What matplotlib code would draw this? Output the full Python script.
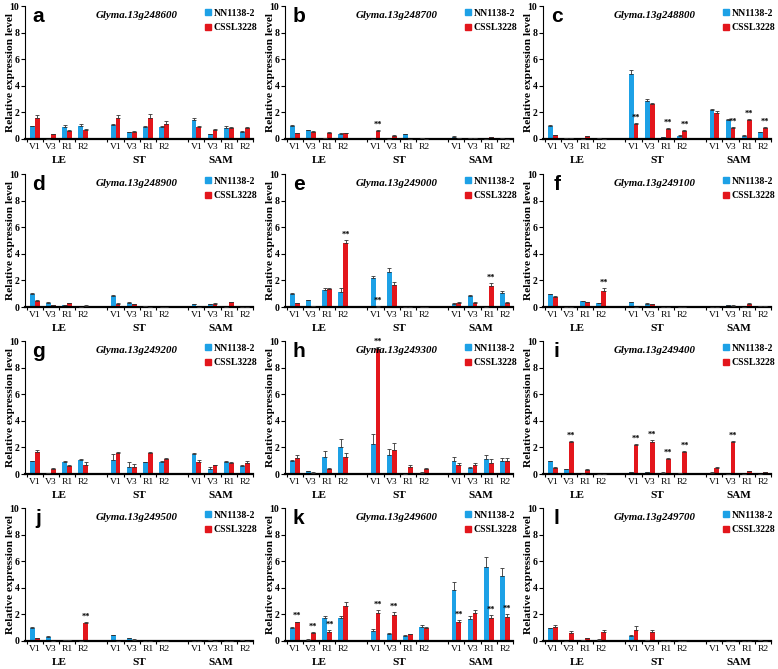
import numpy as np
import matplotlib as mpl
mpl.use('Agg')
import matplotlib.pyplot as plt
from matplotlib.patches import Patch

plt.rcParams['font.family'] = ['Liberation Serif', 'DejaVu Serif']

stages = ['V1', 'V3', 'R1', 'R2']
tissues = ['LE', 'ST', 'SAM']
lines = ['NN1138-2', 'CSSL3228']
letters = list('abcdefghijkl')
genes = ['Glyma.13g248600', 'Glyma.13g248700', 'Glyma.13g248800', 'Glyma.13g248900',
         'Glyma.13g249000', 'Glyma.13g249100', 'Glyma.13g249200', 'Glyma.13g249300',
         'Glyma.13g249400', 'Glyma.13g249500', 'Glyma.13g249600', 'Glyma.13g249700']

# values in order LE(V1,V3,R1,R2), ST(...), SAM(...)
nn_a = [0.95, 0, 0.9, 1.0, 1.05, 0.5, 0.9, 0.9, 1.45, 0.35, 0.85, 0.55]
cs_a = [1.6, 0.35, 0.6, 0.65, 1.55, 0.55, 1.6, 1.15, 0.9, 0.65, 0.8, 0.8]
nn_a_err = [0.05, 0, 0.12, 0.12, 0.05, 0.03, 0.1, 0.1, 0.12, 0.03, 0.15, 0.06]
cs_a_err = [0.2, 0.05, 0.08, 0.12, 0.22, 0.05, 0.25, 0.18, 0.08, 0.1, 0.12, 0.12]
sig_a = []

nn_b = [1.0, 0.65, 0.05, 0.4, 0, 0, 0.38, 0.08, 0.18, 0.08, 0, 0.08]
cs_b = [0.45, 0.5, 0.45, 0.42, 0.6, 0.25, 0, 0, 0.08, 0.06, 0.15, 0]
nn_b_err = [0.05, 0.06, 0.01, 0.05, 0, 0, 0.03, 0.02, 0.02, 0.01, 0, 0.01]
cs_b_err = [0.03, 0.08, 0.04, 0.05, 0.06, 0.05, 0, 0, 0.01, 0.01, 0.02, 0]
sig_b = [4]

nn_c = [1.0, 0.08, 0, 0.05, 4.85, 2.85, 0.15, 0.25, 2.15, 1.45, 0.25, 0.5]
cs_c = [0.3, 0.08, 0.22, 0, 1.15, 2.6, 0.75, 0.6, 1.95, 0.85, 1.4, 0.85]
nn_c_err = [0.05, 0.02, 0, 0.01, 0.35, 0.15, 0.03, 0.03, 0.08, 0.04, 0.02, 0.05]
cs_c_err = [0.03, 0.02, 0.03, 0, 0.08, 0.1, 0.08, 0.08, 0.15, 0.08, 0.1, 0.08]
sig_c = [4, 6, 7, 9, 10, 11]

nn_d = [1.0, 0.3, 0.12, 0, 0.85, 0.3, 0.05, 0, 0.2, 0.22, 0, 0]
cs_d = [0.45, 0.15, 0.28, 0.1, 0.25, 0.2, 0, 0, 0, 0.25, 0.35, 0]
nn_d_err = [0.04, 0.04, 0.03, 0, 0.06, 0.04, 0.01, 0, 0.02, 0.03, 0, 0]
cs_d_err = [0.05, 0.03, 0.04, 0.02, 0.03, 0.03, 0, 0, 0, 0.03, 0.04, 0]
sig_d = []

nn_e = [1.0, 0.5, 1.3, 1.15, 2.2, 2.65, 0, 0, 0.25, 0.8, 0, 1.05]
cs_e = [0.3, 0.08, 1.35, 4.8, 0.02, 1.65, 0, 0, 0.3, 0.3, 1.6, 0.3]
nn_e_err = [0.05, 0.04, 0.15, 0.25, 0.15, 0.3, 0, 0, 0.03, 0.12, 0, 0.12]
cs_e_err = [0.03, 0.02, 0.1, 0.25, 0.02, 0.2, 0, 0, 0.05, 0.04, 0.2, 0.04]
sig_e = [3, 4, 10]

nn_f = [0.95, 0, 0.42, 0.28, 0.35, 0.25, 0, 0, 0, 0.15, 0, 0.1]
cs_f = [0.75, 0, 0.35, 1.2, 0, 0.22, 0, 0, 0, 0.1, 0.25, 0.1]
nn_f_err = [0.04, 0, 0.04, 0.03, 0.04, 0.03, 0, 0, 0, 0.03, 0, 0.01]
cs_f_err = [0.06, 0, 0.04, 0.2, 0, 0.03, 0, 0, 0, 0.02, 0.04, 0.01]
sig_f = [3]

nn_g = [0.95, 0.05, 0.9, 1.05, 1.05, 0.5, 0.9, 0.9, 1.5, 0.4, 0.9, 0.6]
cs_g = [1.65, 0.4, 0.6, 0.7, 1.6, 0.55, 1.6, 1.15, 0.9, 0.65, 0.8, 0.85]
nn_g_err = [0.04, 0.01, 0.04, 0.06, 0.45, 0.4, 0.03, 0.04, 0.05, 0.15, 0.04, 0.1]
cs_g_err = [0.12, 0.06, 0.05, 0.2, 0.04, 0.2, 0.05, 0.04, 0.15, 0.05, 0.1, 0.12]
sig_g = []

nn_h = [1.0, 0.2, 1.3, 2.0, 2.25, 1.45, 0, 0.1, 1.0, 0.45, 1.1, 1.0]
cs_h = [1.2, 0.1, 0.35, 1.25, 9.4, 1.8, 0.55, 0.35, 0.65, 0.65, 0.85, 0.95]
nn_h_err = [0.04, 0.02, 0.4, 0.6, 0.75, 0.45, 0, 0.02, 0.3, 0.08, 0.3, 0.2]
cs_h_err = [0.22, 0.02, 0.12, 0.35, 0.15, 0.5, 0.15, 0.12, 0.2, 0.2, 0.3, 0.25]
sig_h = [4]

nn_i = [0.95, 0.38, 0, 0, 0.12, 0.12, 0.1, 0.05, 0.1, 0, 0, 0]
cs_i = [0.45, 2.4, 0.3, 0, 2.2, 2.4, 1.15, 1.65, 0.45, 2.4, 0.22, 0.12]
nn_i_err = [0.03, 0.02, 0, 0, 0.02, 0.02, 0.02, 0.01, 0.02, 0, 0, 0]
cs_i_err = [0.04, 0.08, 0.04, 0, 0.06, 0.15, 0.06, 0.08, 0.04, 0.08, 0.03, 0.02]
sig_i = [1, 4, 5, 6, 7, 9]

nn_j = [1.0, 0.3, 0.05, 0, 0.42, 0.22, 0, 0, 0, 0.05, 0, 0.05]
cs_j = [0.2, 0, 0.05, 1.35, 0, 0.1, 0, 0, 0, 0, 0, 0]
nn_j_err = [0.04, 0.04, 0.01, 0, 0.04, 0.03, 0, 0, 0, 0.01, 0, 0.01]
cs_j_err = [0.02, 0, 0.01, 0.08, 0, 0.02, 0, 0, 0, 0, 0, 0]
sig_j = [3]

nn_k = [1.0, 0.1, 1.7, 1.75, 0.75, 0.55, 0.4, 1.05, 3.85, 1.65, 5.6, 4.85]
cs_k = [1.4, 0.6, 0.7, 2.6, 2.1, 1.95, 0.5, 0.95, 1.45, 2.1, 1.75, 1.8]
nn_k_err = [0.04, 0.02, 0.15, 0.12, 0.12, 0.08, 0.03, 0.12, 0.55, 0.25, 0.75, 0.65]
cs_k_err = [0.06, 0.1, 0.1, 0.3, 0.2, 0.2, 0.06, 0.1, 0.15, 0.25, 0.2, 0.2]
sig_k = [0, 1, 2, 4, 5, 8, 10, 11]

nn_l = [0.95, 0, 0.1, 0.1, 0.35, 0.08, 0, 0, 0, 0, 0, 0.05]
cs_l = [1.05, 0.6, 0.2, 0.65, 0.85, 0.65, 0, 0, 0, 0, 0, 0]
nn_l_err = [0.06, 0, 0.01, 0.02, 0.08, 0.02, 0, 0, 0, 0, 0, 0.01]
cs_l_err = [0.15, 0.15, 0.05, 0.15, 0.25, 0.2, 0, 0, 0, 0, 0, 0]
sig_l = []

panels = [(nn_a, cs_a, nn_a_err, cs_a_err, sig_a), (nn_b, cs_b, nn_b_err, cs_b_err, sig_b),
          (nn_c, cs_c, nn_c_err, cs_c_err, sig_c), (nn_d, cs_d, nn_d_err, cs_d_err, sig_d),
          (nn_e, cs_e, nn_e_err, cs_e_err, sig_e), (nn_f, cs_f, nn_f_err, cs_f_err, sig_f),
          (nn_g, cs_g, nn_g_err, cs_g_err, sig_g), (nn_h, cs_h, nn_h_err, cs_h_err, sig_h),
          (nn_i, cs_i, nn_i_err, cs_i_err, sig_i), (nn_j, cs_j, nn_j_err, cs_j_err, sig_j),
          (nn_k, cs_k, nn_k_err, cs_k_err, sig_k), (nn_l, cs_l, nn_l_err, cs_l_err, sig_l)]

BLUE = '#1DA1E6'
RED = '#E3161C'
W, H = 778, 669
col_left = [25, 285, 543]
row_top = [6, 174, 341, 508]
ax_w, ax_h = 228, 133

# x positions: 4 stages per tissue with a gap of one slot between tissues
pos = np.array([t * 5 + s for t in range(3) for s in range(4)], dtype=float)
bw = 0.3

fig = plt.figure(figsize=(W / 100, H / 100), dpi=100)
for i, (nn, cs, nne, cse, sig) in enumerate(panels):
    r, c = divmod(i, 3)
    ax = fig.add_axes([col_left[c] / W, 1 - (row_top[r] + ax_h) / H, ax_w / W, ax_h / H])
    nn = np.array(nn); cs = np.array(cs)
    nne = np.array(nne); cse = np.array(cse)
    ax.bar(pos - bw / 2, nn, bw, color=BLUE, zorder=2)
    ax.bar(pos + bw / 2, cs, bw, color=RED, zorder=2)
    ax.errorbar(pos - bw / 2, nn, yerr=[np.zeros_like(nne), nne], fmt='none',
                ecolor='#333333', elinewidth=0.6, capsize=1.5, capthick=0.6, zorder=3)
    ax.errorbar(pos + bw / 2, cs, yerr=[np.zeros_like(cse), cse], fmt='none',
                ecolor='#333333', elinewidth=0.6, capsize=1.5, capthick=0.6, zorder=3)
    for k in sig:
        ax.text(pos[k] + bw / 2, cs[k] + cse[k] + 0.1, '**', ha='center', va='bottom',
                fontsize=6, fontweight='bold')

    ax.set_xlim(-0.6, 13.4)
    ax.set_ylim(0, 10)
    ax.set_yticks(range(0, 11, 2))
    ax.tick_params(axis='y', labelsize=7, length=3, width=0.8, pad=1)
    for lab in ax.get_yticklabels():
        lab.set_fontweight('bold')
    ax.set_xticks(pos)
    ax.set_xticklabels(stages * 3, fontsize=6.8)
    ax.set_xticks(np.concatenate([pos - 0.5, [pos[-1] + 0.5]]), minor=True)
    ax.tick_params(axis='x', which='major', length=0, pad=3)
    ax.tick_params(axis='x', which='minor', length=2, width=0.8)
    for t, name in enumerate(tissues):
        ax.text(t * 5 + 1.5, -0.13, name, transform=ax.get_xaxis_transform(),
                ha='center', va='top', fontsize=8, fontweight='bold')

    for s in ['top', 'right']:
        ax.spines[s].set_visible(False)
    ax.spines['left'].set_linewidth(0.8)
    ax.spines['bottom'].set_linewidth(1.6)

    ax.set_ylabel('Relative expression level', fontsize=8.2, fontweight='bold')
    ax.yaxis.set_label_coords(-0.046, 0.5)

    ax.text(0.06, 0.92, letters[i], transform=ax.transAxes, ha='center', va='center',
            fontsize=15, fontweight='bold', family='Liberation Sans')
    ax.text(0.49, 0.93, genes[i], transform=ax.transAxes, ha='center', va='center',
            fontsize=7.8, fontweight='bold', style='italic')
    handles = [Patch(color=BLUE, label=lines[0]), Patch(color=RED, label=lines[1])]
    ax.legend(handles=handles, loc='upper left', bbox_to_anchor=(0.76, 1.03),
              frameon=False, handlelength=0.6, handleheight=0.6,
              handletextpad=0.25, labelspacing=0.55, borderpad=0.2,
              prop={'size': 7, 'weight': 'bold'})

fig.savefig('out.png', dpi=100)
